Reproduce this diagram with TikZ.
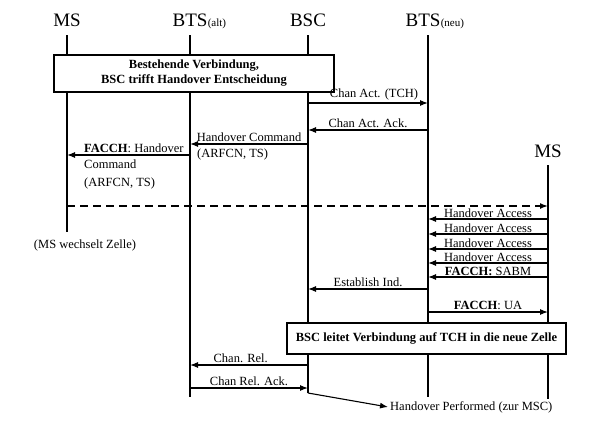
\documentclass[tikz,border=0pt]{standalone}
\usepackage{fontspec}
\setmainfont{Liberation Serif}
\usetikzlibrary{arrows.meta, positioning}

\begin{document}
\begin{tikzpicture}[
        x=1pt, y=-1pt,
        >={Latex[length=8pt,width=6pt]},
        % Stil der Instanzen (Kopf)
        actor/.style={
            font=\fontsize{19}{21}\selectfont,
            inner sep=0pt
        },
        % Stil der kleinen Zusaetze (alt)/(neu)
        actorsub/.style={
            font=\fontsize{11}{12}\selectfont,
            inner sep=0pt
        },
        % Stil der Lebenslinien
        lifeline/.style={line width=1.2pt},
        % Stil der Nachrichten
        msg/.style={->, line width=1.1pt},
        msglabel/.style={
            font=\fontsize{12.5}{18}\selectfont,
            inner sep=2pt
        },
        % Stil der Kaesten
        infobox/.style={
            rectangle,
            draw=black,
            line width=1.4pt,
            fill=white,
            align=center,
            font=\bfseries\fontsize{12.5}{15}\selectfont
        }
    ]
    \useasboundingbox (0,0) rectangle (602,434);

    % --- INSTANZEN ---
    \node [actor] (ms) at (67,20) {MS};
    \node [actor] (btsa) at (190,20) {BTS};
    \node [actorsub, anchor=base west] (btsa-sub) at (btsa.base east) {(alt)};
    \node [actor] (bsc) at (308,20) {BSC};
    \node [actor] (btsn) at (423,20) {BTS};
    \node [actorsub, anchor=base west] (btsn-sub) at (btsn.base east) {(neu)};
    \node [actor] (ms2) at (548,151) {MS};

    % --- LEBENSLINIEN ---
    \coordinate (ms-top) at (67,35);    \coordinate (ms-end) at (67,232);
    \coordinate (btsa-top) at (190,35); \coordinate (btsa-end) at (190,397);
    \coordinate (bsc-top) at (308,35);  \coordinate (bsc-end) at (308,393);
    \coordinate (btsn-top) at (428,35); \coordinate (btsn-end) at (428,397);
    \coordinate (ms2-top) at (548,165); \coordinate (ms2-end) at (548,399);
    \draw [lifeline] (ms-top) -- (ms-end);
    \draw [lifeline] (btsa-top) -- (btsa-end);
    \draw [lifeline] (bsc-top) -- (bsc-end);
    \draw [lifeline] (btsn-top) -- (btsn-end);
    \draw [lifeline] (ms2-top) -- (ms2-end);

    % --- KASTEN 1 ---
    \node [infobox, minimum width=280pt, minimum height=37pt] (conn) at (194,73.5)
        {Bestehende Verbindung,\\BSC trifft Handover Entscheidung};

    % --- NACHRICHTEN ---
    \draw [msg] (bsc-top |- 0,103) -- node[msglabel, above, pos=0.55] {Chan Act. (TCH)} (btsn-top |- 0,103);
    \draw [msg] (btsn-top |- 0,130) -- node[msglabel, above] {Chan Act. Ack.} (bsc-top |- 0,130);
    \draw [msg] (bsc-top |- 0,144) -- node[msglabel, above] {Handover Command} (btsa-top |- 0,144);
    \node [msglabel, anchor=north west] (hc-sub) at (195,147) {(ARFCN, TS)};
    \draw [msg] (btsa-top |- 0,155) -- (ms-top |- 0,155);
    \node [msglabel, anchor=south west] (fh) at (82,155) {\textbf{FACCH}: Handover};
    \node [msglabel, anchor=north west, align=left] (fh-sub) at (82,158) {Command\\(ARFCN, TS)};
    \draw [msg, line width=1.5pt, dash pattern=on 8pt off 5pt] (ms-top |- 0,206) -- (ms2-top |- 0,206);
    \node [msglabel] (wechsel) at (85,245) {(MS wechselt Zelle)};

    \foreach \y in {219,234,249,263} {
        \draw [msg] (ms2-top |- 0,\y) -- node[msglabel, above, inner sep=1pt] {Handover Access} (btsn-top |- 0,\y);
    }
    \draw [msg] (ms2-top |- 0,277) -- node[msglabel, above, inner sep=1pt] {\textbf{FACCH:} SABM} (btsn-top |- 0,277);
    \draw [msg] (btsn-top |- 0,289) -- node[msglabel, above] {Establish Ind.} (bsc-top |- 0,289);
    \draw [msg] (btsn-top |- 0,312) -- node[msglabel, above] {\textbf{FACCH}: UA} (ms2-top |- 0,312);

    % --- KASTEN 2 ---
    \node [infobox, minimum width=279pt, minimum height=31pt] (tch) at (426.5,338.5)
        {BSC leitet Verbindung auf TCH in die neue Zelle};

    \draw [msg] (bsc-top |- 0,365) -- node[msglabel, above, pos=0.57] {Chan. Rel.} (btsa-top |- 0,365);
    \draw [msg] (btsa-top |- 0,388) -- node[msglabel, above] {Chan Rel. Ack.} (bsc-top |- 0,388);

    % --- AN DIE MSC ---
    \node [msglabel, anchor=west] (perf) at (388,407) {Handover Performed (zur MSC)};
    \draw [msg] (bsc-end) -- (perf.west);

\end{tikzpicture}
\end{document}
